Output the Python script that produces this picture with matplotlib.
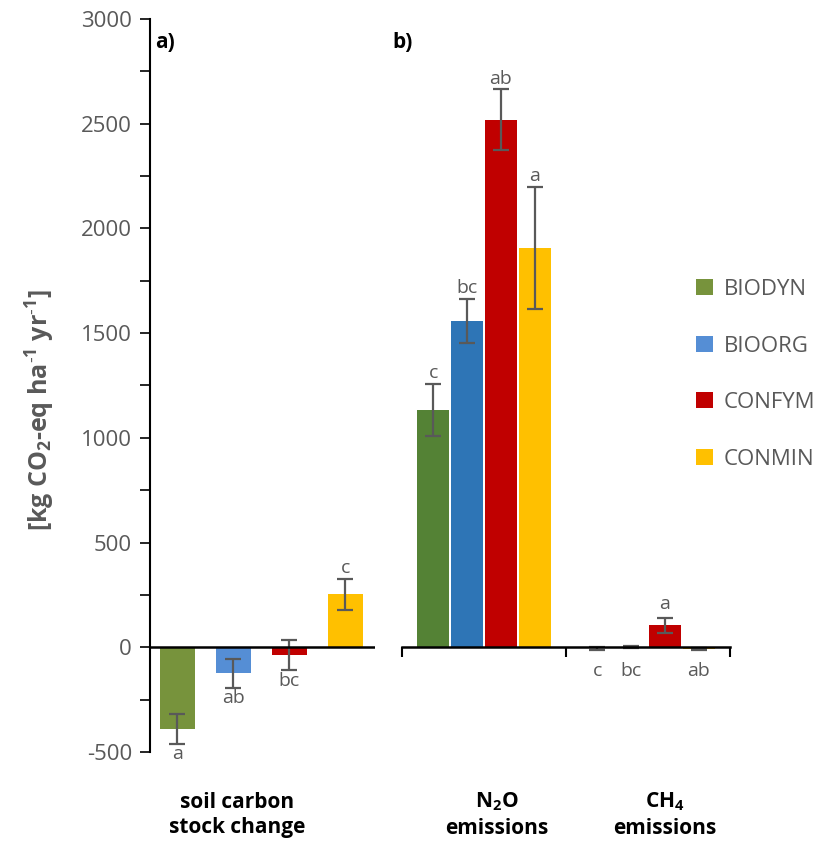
import matplotlib.pyplot as plt
from matplotlib.ticker import MultipleLocator
from matplotlib.patches import Patch

plt.rcParams['font.family'] = ['Open Sans', 'DejaVu Sans']
plt.rcParams['axes.unicode_minus'] = False
plt.rcParams['mathtext.fontset'] = 'custom'
plt.rcParams['mathtext.rm'] = 'Open Sans'
plt.rcParams['mathtext.bf'] = 'Open Sans:bold'

# Data
systems = ['BIODYN', 'BIOORG', 'CONFYM', 'CONMIN']
colors_a = ['#77933C', '#558ED5', '#C00000', '#FFC000']
colors_b = ['#548235', '#2E75B6', '#C00000', '#FFC000']

soil_c = [-390, -125, -38, 253]
soil_c_err = [70, 68, 72, 75]
soil_c_letters = ['a', 'ab', 'bc', 'c']

n2o = [1133, 1558, 2519, 1907]
n2o_err = [125, 107, 145, 290]
n2o_letters = ['c', 'bc', 'ab', 'a']

ch4 = [-5, 2, 105, -8]
ch4_err = [6, 6, 36, 6]
ch4_letters = ['c', 'bc', 'a', 'ab']

grey = '#595959'
W, H = 818, 846
fig = plt.figure(figsize=(W / 100, H / 100), dpi=100)

bot = 1 - 752 / H
top = 1 - 19 / H
axa = fig.add_axes([150 / W, bot, 225 / W, top - bot])
axb = fig.add_axes([402 / W, bot, 328 / W, top - bot], sharey=axa)

ekw = dict(ecolor=grey, elinewidth=1.6, capsize=5.5, capthick=1.6)

# panel a
xa = range(4)
axa.bar(xa, soil_c, width=0.625, color=colors_a, yerr=soil_c_err, error_kw=ekw, zorder=2)
axa.set_xlim(-0.49, 3.53)
axa.set_ylim(-500, 3000)
axa.yaxis.set_major_locator(MultipleLocator(500))
axa.yaxis.set_minor_locator(MultipleLocator(250))
axa.tick_params(axis='y', which='major', length=7, width=1.2, labelsize=16, labelcolor=grey, pad=6)
axa.tick_params(axis='y', which='minor', length=7, width=1.2)
axa.set_xticks([])
for s in ['top', 'right', 'bottom']:
    axa.spines[s].set_visible(False)
axa.spines['left'].set_linewidth(1.5)
axa.axhline(0, color='black', lw=1.8, zorder=3)
for x, v, e, l in zip(xa, soil_c, soil_c_err, soil_c_letters):
    if v < 0:
        axa.text(x, v - e - 8, l, ha='center', va='top', fontsize=14, color=grey)
    else:
        axa.text(x, v + e + 8, l, ha='center', va='bottom', fontsize=14, color=grey)

# panel b
off = [-1.5, -0.5, 0.5, 1.5]
for i in range(4):
    xs = [0.5 + off[i] * 0.207, 1.5 + off[i] * 0.207]
    vals = [n2o[i], ch4[i]]
    errs = [n2o_err[i], ch4_err[i]]
    axb.bar(xs, vals, width=0.19, color=colors_b[i], yerr=errs, error_kw=ekw, zorder=2)
    axb.text(xs[0], n2o[i] + n2o_err[i] + 8, n2o_letters[i], ha='center', va='bottom',
             fontsize=14, color=grey)
    if ch4[i] > 20:
        axb.text(xs[1], ch4[i] + ch4_err[i] + 25, ch4_letters[i], ha='center', va='bottom',
                 fontsize=14, color=grey)
    else:
        axb.text(xs[1], -70, ch4_letters[i], ha='center', va='top', fontsize=14, color=grey)
axb.set_xlim(0, 2)
for s in ['top', 'right', 'left']:
    axb.spines[s].set_visible(False)
axb.spines['bottom'].set_position(('data', 0))
axb.spines['bottom'].set_linewidth(1.8)
axb.set_xticks([0, 1, 2])
axb.tick_params(axis='x', length=7, width=1.5, labelbottom=False)
axb.tick_params(axis='y', which='both', left=False, labelleft=False)

# labels
fig.text(40 / W, 1 - 410 / H, r'[kg CO$_\mathbf{2}$-eq ha$^{\mathbf{\text{-}1}}$ yr$^{\mathbf{\text{-}1}}$]',
         rotation=90, ha='center', va='center', fontsize=18, fontweight='bold', color=grey)
fig.text(155 / W, 1 - 42 / H, 'a)', fontsize=15, fontweight='bold', va='center')
fig.text(392 / W, 1 - 42 / H, 'b)', fontsize=15, fontweight='bold', va='center')
for xp, txt in [(237, 'soil carbon\nstock change'), (497, r'N$_\mathbf{2}$O' + '\nemissions'),
                (665, r'CH$_\mathbf{4}$' + '\nemissions')]:
    fig.text(xp / W, 1 - 815 / H, txt, ha='center', va='center', fontsize=15,
             fontweight='bold', linespacing=1.3)

handles = [Patch(facecolor=c) for c in colors_a]
leg = fig.legend(handles, systems, loc='upper left', bbox_to_anchor=(676 / W, 1 - 259 / H),
                 frameon=False, fontsize=16, labelspacing=1.6, handlelength=0.75,
                 handleheight=0.75, handletextpad=0.5, labelcolor=grey)

fig.savefig('out.png', dpi=100)
